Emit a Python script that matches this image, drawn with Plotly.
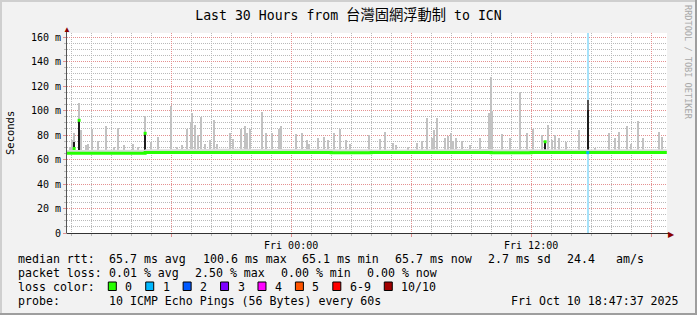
import plotly.graph_objects as go

# ---------------- data ----------------
T_START = "2025-10-09 12:47:37"
T_END = "2025-10-10 18:47:37"
Y_MAX_MS = 163.3

# light smoke (max ping per step), floor of smoke ~ min ping
SMOKE_FLOOR_MS = 64.8
smoke_times = [
    "2025-10-09 12:57", "2025-10-09 13:03", "2025-10-09 13:09", "2025-10-09 13:24", "2025-10-09 13:31",
    "2025-10-09 13:45", "2025-10-09 13:51", "2025-10-09 14:04", "2025-10-09 14:21", "2025-10-09 14:45",
    "2025-10-09 15:09", "2025-10-09 15:22", "2025-10-09 15:39", "2025-10-09 16:06", "2025-10-09 16:21",
    "2025-10-09 16:42", "2025-10-09 17:00", "2025-10-09 17:21", "2025-10-09 18:00", "2025-10-09 18:18",
    "2025-10-09 18:33", "2025-10-09 18:48", "2025-10-09 19:00", "2025-10-09 19:04", "2025-10-09 19:12",
    "2025-10-09 19:21", "2025-10-09 19:30", "2025-10-09 19:42", "2025-10-09 19:57", "2025-10-09 20:09",
    "2025-10-09 20:18", "2025-10-09 20:57", "2025-10-09 21:07", "2025-10-09 21:29", "2025-10-09 21:43",
    "2025-10-09 21:49", "2025-10-09 21:57", "2025-10-09 22:34", "2025-10-09 22:44", "2025-10-09 23:04",
    "2025-10-09 23:25", "2025-10-09 23:30", "2025-10-10 00:14", "2025-10-10 00:34", "2025-10-10 00:49",
    "2025-10-10 00:55", "2025-10-10 01:20", "2025-10-10 01:40", "2025-10-10 01:52", "2025-10-10 02:10",
    "2025-10-10 02:27", "2025-10-10 02:45", "2025-10-10 02:57", "2025-10-10 03:24", "2025-10-10 03:55",
    "2025-10-10 04:28", "2025-10-10 04:43", "2025-10-10 05:06", "2025-10-10 05:16", "2025-10-10 05:52",
    "2025-10-10 06:18", "2025-10-10 06:34", "2025-10-10 06:49", "2025-10-10 07:03", "2025-10-10 07:08",
    "2025-10-10 07:19", "2025-10-10 07:42", "2025-10-10 07:52", "2025-10-10 07:59", "2025-10-10 08:05",
    "2025-10-10 08:16", "2025-10-10 08:34", "2025-10-10 08:58", "2025-10-10 09:28", "2025-10-10 09:39",
    "2025-10-10 09:55", "2025-10-10 09:59", "2025-10-10 10:04", "2025-10-10 10:34", "2025-10-10 10:58",
    "2025-10-10 11:28", "2025-10-10 11:47", "2025-10-10 12:07", "2025-10-10 12:32", "2025-10-10 12:42",
    "2025-10-10 12:52", "2025-10-10 13:02", "2025-10-10 13:13", "2025-10-10 13:24", "2025-10-10 13:44",
    "2025-10-10 14:25", "2025-10-10 14:50", "2025-10-10 15:12", "2025-10-10 15:55", "2025-10-10 16:12",
    "2025-10-10 16:24", "2025-10-10 16:47", "2025-10-10 17:00", "2025-10-10 17:22", "2025-10-10 17:37",
    "2025-10-10 18:24", "2025-10-10 18:32",
]
smoke_top_ms = [
    70.5, 76.0, 82.0, 106.0, 84.0,
    72.0, 73.0, 85.0, 75.0, 87.0,
    70.0, 86.0, 72.0, 73.0, 70.0,
    95.5, 74.0, 78.6, 104.0, 70.0,
    72.0, 84.7, 91.0, 98.0, 88.0,
    80.0, 95.0, 73.0, 76.0, 92.0,
    73.0, 81.9, 77.0, 84.9, 87.6,
    82.0, 84.9, 99.0, 82.0, 82.0,
    84.9, 87.3, 81.0, 82.0, 75.9,
    73.0, 77.8, 78.6, 75.9, 82.0,
    84.9, 75.9, 73.0, 68.0, 80.0,
    76.7, 82.7, 73.7, 72.0, 70.5,
    73.7, 75.0, 94.0, 77.8, 84.0,
    94.0, 77.3, 79.4, 81.9, 75.3,
    77.8, 75.3, 71.8, 77.3, 68.0,
    98.2, 127.6, 99.6, 80.8, 77.3,
    115.3, 81.9, 84.6, 80.0, 74.5,
    88.0, 76.0, 80.0, 77.6, 74.5,
    84.0, 109.0, 69.0, 81.4, 77.3,
    82.7, 87.6, 73.0, 91.4, 77.3,
    82.7, 78.6,
]

# low smoke fuzz just above the median (upper edge, per ~2 hours)
fuzz_times = [
    "2025-10-09 12:47", "2025-10-09 14:00", "2025-10-09 16:42", "2025-10-09 18:00",
    "2025-10-09 20:00", "2025-10-09 22:00", "2025-10-10 00:00", "2025-10-10 02:00",
    "2025-10-10 04:00", "2025-10-10 06:00", "2025-10-10 08:00", "2025-10-10 10:00",
    "2025-10-10 12:00", "2025-10-10 14:00", "2025-10-10 16:00", "2025-10-10 18:47",
]
fuzz_top_ms = [67.8, 68.0, 68.4, 68.6, 68.8, 68.6, 68.6, 68.4,
               68.2, 68.4, 68.6, 68.4, 68.4, 68.2, 68.4, 68.4]

# dense (dark) smoke
dense_times = ["2025-10-09 13:09", "2025-10-09 13:24", "2025-10-09 16:42",
               "2025-10-10 00:34", "2025-10-10 12:42", "2025-10-10 14:50"]
dense_low_ms = [65.0, 65.0, 65.0, 65.0, 65.0, 65.0]
dense_high_ms = [74.5, 92.0, 81.4, 67.7, 74.5, 100.4]

# medium smoke above the dense part
mid_times = ["2025-10-10 14:50"]
mid_low_ms = [100.4]
mid_high_ms = [109.0]

# median rtt line
median_times = [
    "2025-10-09 12:47", "2025-10-09 14:00", "2025-10-09 16:42", "2025-10-09 18:00",
    "2025-10-09 20:00", "2025-10-09 22:00", "2025-10-10 00:00", "2025-10-10 02:00",
    "2025-10-10 04:00", "2025-10-10 06:00", "2025-10-10 08:00", "2025-10-10 10:00",
    "2025-10-10 12:00", "2025-10-10 14:00", "2025-10-10 16:00", "2025-10-10 18:47",
]
median_ms = [65.2, 65.2, 65.7, 65.7, 65.7, 65.7, 65.7, 65.6,
             65.7, 65.7, 65.7, 65.6, 65.7, 65.7, 65.7, 65.7]

# isolated median jumps
median_jump_times = ["2025-10-09 13:09", "2025-10-09 13:24", "2025-10-09 16:42", "2025-10-10 12:42"]
median_jump_ms = [69.0, 92.0, 81.4, 74.5]

# packet loss events (lost pings out of 10)
loss_times = ["2025-10-10 14:50"]
loss_count = [1]
loss_median_ms = [65.6]

# legend
loss_labels = ["0", "1", "2", "3", "4", "5", "6-9", "10/10"]
loss_colors = ["#26ff00", "#00b8ff", "#0059ff", "#7e00ff", "#ff00ff", "#ff5500", "#ff0000", "#a10000"]
loss_bg_colors = ["#ffffff", "#a6e2fa"]

title_text = "Last 30 Hours from <span style='font-family:Noto Sans CJK TC;font-size:14.3px'>台灣固網浮動制</span> to ICN"
x_tick_vals = ["2025-10-09 18:00", "2025-10-10 00:00", "2025-10-10 06:00", "2025-10-10 12:00", "2025-10-10 18:00"]
x_tick_text = ["", "Fri 00:00", "", "Fri 12:00", ""]
y_tick_vals = [0, 20, 40, 60, 80, 100, 120, 140, 160]
y_tick_text = ["0", "20 m", "40 m", "60 m", "80 m", "100 m", "120 m", "140 m", "160 m"]

rtt_row = ["median rtt:", "65.7 ms avg", "100.6 ms max", "65.1 ms min", "65.7 ms now", "2.7 ms sd", "24.4", "am/s"]
loss_row = ["packet loss:", "0.01 % avg", "2.50 % max", "0.00 % min", "0.00 % now"]
probe_row = ["probe:", "10 ICMP Echo Pings (56 Bytes) every 60s"]
stamp_text = "Fri Oct 10 18:47:37 2025"

# ---------------- layout geometry (pixels) ----------------
W, H = 697, 315
PL, PR, PT, PB = 67, 667, 33, 233
STEP_MS = 180000  # one pixel = 3 minutes

def px(x):
    return (x - PL) / (PR - PL)

def py(y):
    return (PB - y) / (PB - PT)

MONO = "DejaVu Sans Mono, Noto Sans CJK TC, monospace"
BACK = "#f2f2f2"
GRID = "#b9b9b9"
MGRID = "#e49090"

fig = go.Figure()

# loss background columns
fig.add_trace(go.Bar(
    x=loss_times, y=[Y_MAX_MS] * len(loss_times), base=[0] * len(loss_times),
    width=2 * STEP_MS, marker=dict(color=[loss_bg_colors[min(c, 1)] for c in loss_count], line=dict(width=0)),
    hoverinfo="skip", showlegend=False))

# low fuzz band
fig.add_trace(go.Scatter(
    x=fuzz_times, y=[SMOKE_FLOOR_MS] * len(fuzz_times), mode="lines",
    line=dict(width=0, shape="hv"), hoverinfo="skip", showlegend=False))
fig.add_trace(go.Scatter(
    x=fuzz_times, y=fuzz_top_ms, mode="lines", fill="tonexty", fillcolor="#dadada",
    line=dict(width=0, shape="hv"), hoverinfo="skip", showlegend=False))

# light smoke
fig.add_trace(go.Bar(
    x=smoke_times, y=[t - SMOKE_FLOOR_MS for t in smoke_top_ms], base=[SMOKE_FLOOR_MS] * len(smoke_times),
    width=STEP_MS, marker=dict(color="#c2c2c2", line=dict(width=0)), showlegend=False))

# mid smoke
fig.add_trace(go.Bar(
    x=mid_times, y=[h - l for h, l in zip(mid_high_ms, mid_low_ms)], base=mid_low_ms,
    width=STEP_MS, marker=dict(color="#505050", line=dict(width=0)), showlegend=False))

# dense smoke
fig.add_trace(go.Bar(
    x=dense_times, y=[h - l for h, l in zip(dense_high_ms, dense_low_ms)], base=dense_low_ms,
    width=STEP_MS, marker=dict(color="#1c1c1c", line=dict(width=0)), showlegend=False))

# median line
fig.add_trace(go.Scatter(
    x=median_times, y=median_ms, mode="lines", line=dict(color=loss_colors[0], width=3, shape="hv"),
    showlegend=False))

fig.add_trace(go.Scatter(
    x=median_jump_times, y=median_jump_ms, mode="markers",
    marker=dict(symbol="square", size=3, color=loss_colors[0], line=dict(width=0)), showlegend=False))

fig.add_trace(go.Scatter(
    x=loss_times, y=loss_median_ms, mode="markers",
    marker=dict(symbol="square", size=3, color=[loss_colors[c] for c in loss_count], line=dict(width=0)),
    showlegend=False))

annotations = []
shapes = []

def text(x, y, s, size=11.6, anchor="left", color="#000000", angle=0):
    annotations.append(dict(
        x=px(x), y=py(y), xref="paper", yref="paper", text=s, showarrow=False,
        xanchor=anchor, yanchor="middle", textangle=angle,
        font=dict(family=MONO, size=size, color=color)))

# legend rows
rtt_x = [16, 107.3, 200.7, 300, 393, 486.3, 565.3, 613.7]
for s, x in zip(rtt_row, rtt_x):
    text(x, 259, s)
loss_x = [16, 107.3, 193.3, 279.3, 365.3]
for s, x in zip(loss_row, loss_x):
    text(x, 273, s)
text(16, 287, "loss color:")
bx = 108.3
for lab, col in zip(loss_labels, loss_colors):
    shapes.append(dict(type="rect", xref="paper", yref="paper",
                       x0=px(bx), x1=px(bx + 8), y0=py(290.5), y1=py(282),
                       fillcolor=col, line=dict(color="#000000", width=1)))
    text(bx + 15, 287, lab)
    bx = bx + 15 + len(lab) * 7.02 + 15.4
for s, x in zip(probe_row, [16, 107.3]):
    text(x, 301, s)
text(681, 301, stamp_text, anchor="right")

# axis title and watermark
text(10, 133, "Seconds", size=10.5, anchor="center", angle=-90)
text(688, 62, "RRDTOOL / TOBI OETIKER", size=8.6, anchor="center", color="#a8a8a8", angle=90)

# axis arrows
annotations.append(dict(x=px(66.8), y=py(29), xref="paper", yref="paper", text="▲", showarrow=False,
                        xanchor="center", yanchor="middle", font=dict(size=8, color="#8b0000")))
annotations.append(dict(x=px(671), y=py(233), xref="paper", yref="paper", text="▶", showarrow=False,
                        xanchor="center", yanchor="middle", font=dict(size=8, color="#8b0000")))
shapes.append(dict(type="line", xref="paper", yref="paper", x0=px(66.5), x1=px(66.5), y0=py(233), y1=py(30),
                   line=dict(color="#555555", width=1)))
shapes.append(dict(type="line", xref="paper", yref="paper", x0=px(66.5), x1=px(670), y0=py(233.5), y1=py(233.5),
                   line=dict(color="#333333", width=1)))

# frame (shade lines)
shapes.append(dict(type="rect", xref="paper", yref="paper", x0=px(0), x1=px(W), y0=py(0), y1=py(2),
                   fillcolor="#cfcfcf", line=dict(width=0), layer="below"))
shapes.append(dict(type="rect", xref="paper", yref="paper", x0=px(0), x1=px(2), y0=py(0), y1=py(H),
                   fillcolor="#cfcfcf", line=dict(width=0), layer="below"))
shapes.append(dict(type="rect", xref="paper", yref="paper", x0=px(0), x1=px(W), y0=py(H - 2), y1=py(H),
                   fillcolor="#9e9e9e", line=dict(width=0), layer="below"))
shapes.append(dict(type="rect", xref="paper", yref="paper", x0=px(W - 2), x1=px(W), y0=py(0), y1=py(H),
                   fillcolor="#9e9e9e", line=dict(width=0), layer="below"))

fig.update_layout(
    width=W, height=H,
    margin=dict(l=PL, r=W - PR, t=PT, b=H - PB, pad=0),
    paper_bgcolor=BACK, plot_bgcolor="#ffffff",
    barmode="overlay", bargap=0,
    showlegend=False,
    title=dict(text=title_text, x=0.5, xanchor="center", y=1 - 15 / H, yanchor="middle",
               font=dict(family=MONO, size=13.2, color="#000000")),
    annotations=annotations, shapes=shapes,
    xaxis=dict(
        type="date", range=[T_START, T_END],
        tickmode="array", tickvals=x_tick_vals, ticktext=x_tick_text,
        showgrid=True, gridcolor=MGRID, griddash="1px,1px", gridwidth=1,
        ticks="outside", ticklen=3, tickcolor=MGRID, tickwidth=1,
        tickfont=dict(family=MONO, size=10, color="#000000"),
        showline=False, zeroline=False, fixedrange=True,
        minor=dict(tick0="2025-10-09 13:00", dtick=3600000, showgrid=True, gridcolor=GRID,
                   griddash="1px,1px", gridwidth=1, ticks="outside", ticklen=2, tickcolor=GRID),
    ),
    yaxis=dict(
        range=[0, Y_MAX_MS], tickmode="array", tickvals=y_tick_vals, ticktext=y_tick_text,
        showgrid=True, gridcolor=MGRID, griddash="1px,1px", gridwidth=1,
        ticks="outside", ticklen=3, tickcolor=MGRID,
        tickfont=dict(family=MONO, size=10, color="#000000"),
        showline=False, zeroline=False, fixedrange=True,
        minor=dict(tick0=0, dtick=5, showgrid=True, gridcolor=GRID, griddash="1px,1px",
                   gridwidth=1, ticks="outside", ticklen=2, tickcolor=GRID),
    ),
)

fig.write_html("out.html", include_plotlyjs=True, config={"displayModeBar": False})
